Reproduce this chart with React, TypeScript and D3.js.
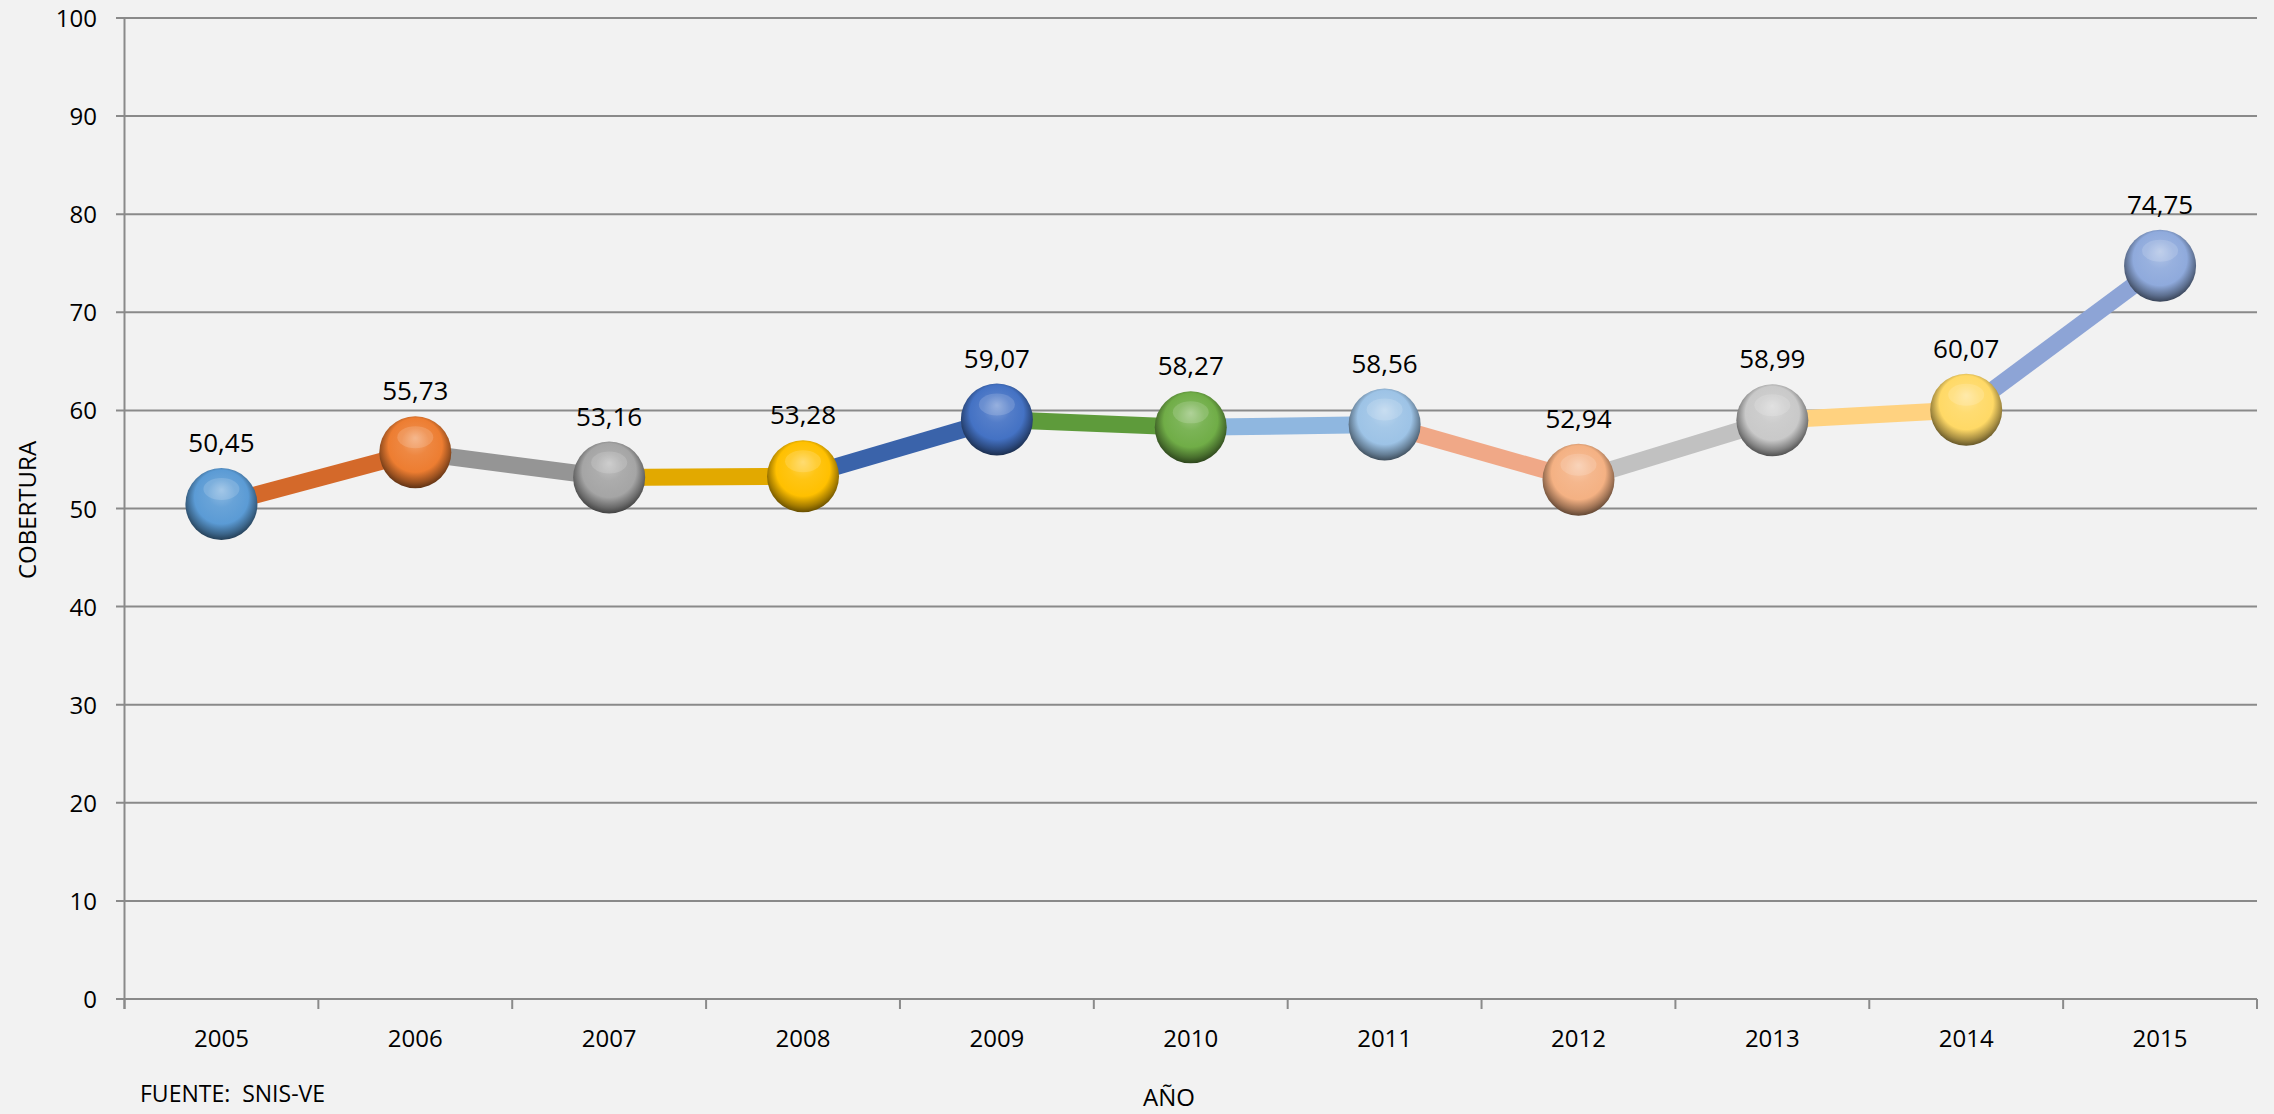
import React from "react";
import * as d3 from "d3";

const years = ["2005","2006","2007","2008","2009","2010","2011","2012","2013","2014","2015"];
const values = [50.45, 55.73, 53.16, 53.28, 59.07, 58.27, 58.56, 52.94, 58.99, 60.07, 74.75];
const markerColors = ["#5B9BD5","#ED7D31","#A5A5A5","#FFC000","#4472C4","#70AD47","#9DC3E6","#F4B183","#C9C9C9","#FFD966","#8FAADC"];
const lineColors = ["#4F8ACB","#D4692A","#959595","#E2A900","#3A63AA","#5E9B3B","#8FB7E0","#F0A887","#C1C1C1","#FFD280","#8DA4D6"];
const yTicks = [0,10,20,30,40,50,60,70,80,90,100];

const W = 2274, H = 1114;
const FONT = "'Open Sans', 'Liberation Sans', sans-serif";

export default function App() {
  const x = d3.scaleBand<string>().domain(years).range([124.5, 2257]).padding(0);
  const y = d3.scaleLinear().domain([0, 100]).range([999, 18]);
  const cx = (i: number) => (x(years[i]) as number) + x.bandwidth() / 2;
  const line = d3.line<[number, number]>().x(d => d[0]).y(d => d[1]);
  const fmt = (v: number) => v.toFixed(2).replace(".", ",");
  const shade = (c: string, k: number) => {
    return k > 0 ? d3.interpolateRgb(c, "#ffffff")(k) : d3.interpolateRgb(c, "#000000")(-k);
  };
  const boundaries = years.map(yr => x(yr) as number).concat([2257]);

  return (
    <svg width={W} height={H} style={{ position: "absolute", left: 0, top: 0 }}>
      <defs>
        {markerColors.map((c, i) => (
          <radialGradient key={i} id={`g${i}`} cx="0.5" cy="0.45" r="0.55" fx="0.5" fy="0.3">
            <stop offset="0%" stopColor={shade(c, 0.35)} />
            <stop offset="35%" stopColor={shade(c, 0.08)} />
            <stop offset="68%" stopColor={c} />
            <stop offset="88%" stopColor={shade(c, -0.35)} />
            <stop offset="100%" stopColor={shade(c, -0.6)} />
          </radialGradient>
        ))}
      </defs>
      <rect x={0} y={0} width={W} height={H} fill="#F2F2F2" />
      {yTicks.map(t => (
        <g key={t}>
          <line x1={116} x2={2257} y1={y(t)} y2={y(t)} stroke="#8A8A8A" strokeWidth={2} />
          <text x={97} y={y(t) + 9} textAnchor="end" fontFamily={FONT} fontSize={24} fill="#000">{t}</text>
        </g>
      ))}
      <line x1={124.5} x2={124.5} y1={y(100)} y2={1009} stroke="#8A8A8A" strokeWidth={2} />
      {boundaries.map((b, i) => (
        <line key={i} x1={b} x2={b} y1={999} y2={1009} stroke="#8A8A8A" strokeWidth={2} />
      ))}
      {years.map((yr, i) => (
        <text key={yr} x={cx(i)} y={1047} textAnchor="middle" fontFamily={FONT} fontSize={24} fill="#000">{yr}</text>
      ))}
      {values.slice(1).map((v, k) => {
        const i = k + 1;
        const d = line([[cx(i - 1), y(values[i - 1])], [cx(i), y(v)]]) as string;
        return <path key={i} d={d} stroke={lineColors[i]} strokeWidth={17} fill="none" />;
      })}
      {values.map((v, i) => (
        <g key={i}>
          <circle cx={cx(i)} cy={y(v)} r={36} fill={`url(#g${i})`} />
          <ellipse cx={cx(i)} cy={y(v) - 15} rx={18} ry={11} fill="#ffffff" opacity={0.15} />
          <text x={cx(i)} y={y(v) - 52} textAnchor="middle" fontFamily={FONT} fontSize={26} fill="#000">{fmt(v)}</text>
        </g>
      ))}
      <text transform={`translate(36,510) rotate(-90)`} textAnchor="middle" fontFamily={FONT} fontSize={24} fill="#000">COBERTURA</text>
      <text x={1169} y={1106} textAnchor="middle" fontFamily={FONT} fontSize={24} fill="#000">AÑO</text>
      <text x={140} y={1102} fontFamily={FONT} fontSize={23} fill="#000" style={{ whiteSpace: "pre" }}>{"FUENTE:  SNIS-VE"}</text>
    </svg>
  );
}
